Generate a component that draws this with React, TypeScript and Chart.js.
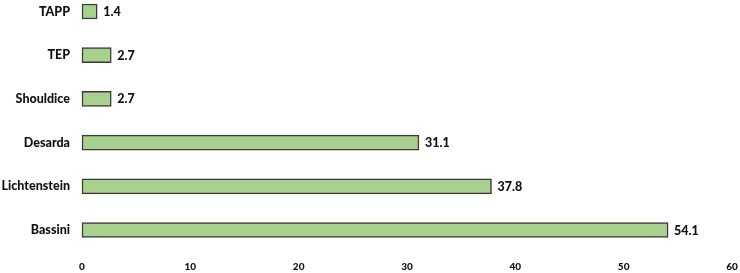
import React, { useEffect, useRef } from "react";
import { Chart, registerables } from "chart.js";

Chart.register(...registerables);

const categories = ["TAPP", "TEP", "Shouldice", "Desarda", "Lichtenstein", "Bassini"];
const values = [1.4, 2.7, 2.7, 31.1, 37.8, 54.1];
const xTicks = [0, 10, 20, 30, 40, 50, 60];

const FONT = "Lato, 'Open Sans', sans-serif";

const valueLabels = {
  id: "valueLabels",
  afterDatasetsDraw(chart: any) {
    const ctx = chart.ctx;
    const meta = chart.getDatasetMeta(0);
    ctx.save();
    ctx.font = `900 12.5px ${FONT}`;
    ctx.fillStyle = "#111";
    ctx.textAlign = "left";
    ctx.textBaseline = "middle";
    meta.data.forEach((el: any, i: number) => {
      ctx.fillText(String(values[i]), el.x + 6, el.y + 0.5);
    });
    ctx.restore();
  },
};

export default function App() {
  const ref = useRef<HTMLCanvasElement>(null);
  useEffect(() => {
    if (!ref.current) return;
    const chart = new Chart(ref.current, {
      type: "bar",
      data: {
        labels: categories,
        datasets: [
          {
            data: values,
            backgroundColor: "#a9d18e",
            borderColor: "#3a3a3a",
            borderWidth: 1.5,
            borderSkipped: false,
            barThickness: 15,
            clip: false as any,
          },
        ],
      },
      options: {
        indexAxis: "y",
        animation: false,
        responsive: false,
        layout: { padding: { top: 11.5, right: 8, bottom: 0, left: 0 } },
        plugins: { legend: { display: false }, tooltip: { enabled: false } },
        scales: {
          x: {
            min: 0,
            max: 60,
            afterBuildTicks: (s: any) => {
              s.ticks = xTicks.map((v) => ({ value: v }));
            },
            afterFit: (s: any) => {
              s.height = 43;
              s.paddingLeft = 0;
              s.paddingRight = 0;
            },
            grid: { display: false, drawTicks: false },
            border: { display: false },
            ticks: {
              padding: 31,
              maxRotation: 0,
              color: "#111",
              font: { family: FONT, size: 10, weight: "900" },
            },
          },
          y: {
            offset: false,
            grid: { display: false, drawTicks: false },
            border: { display: false },
            afterFit: (s: any) => {
              s.width = 82;
              s.paddingTop = 0;
              s.paddingBottom = 0;
            },
            ticks: {
              padding: 12,
              color: "#111",
              font: { family: FONT, size: 12.5, weight: "900" },
            },
          },
        },
      },
      plugins: [valueLabels],
    });
    return () => chart.destroy();
  }, []);
  return (
    <div style={{ position: "fixed", left: 0, top: 0, width: 740, height: 273, background: "#fff" }}>
      <canvas ref={ref} width={740} height={273} />
    </div>
  );
}
